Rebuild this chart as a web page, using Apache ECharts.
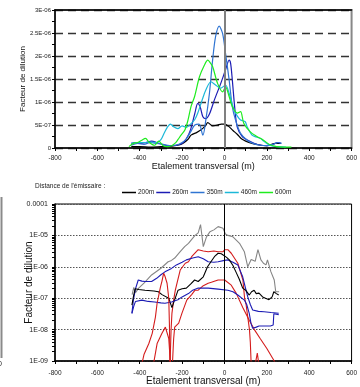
<!DOCTYPE html>
<html>
<head>
<meta charset="utf-8">
<script src="https://cdn.jsdelivr.net/npm/echarts@6/dist/echarts.min.js"></script>
<style>
html, body { margin: 0; padding: 0; background: #fff; }
#main { width: 360px; height: 387px; }
</style>
</head>
<body>
<div id="main"></div>
<script>
// --- top chart: dilution factor (units of 1E-06) vs transverse spread (m)
const x200 = [-440, -400, -350, -300, -250, -210, -190, -170, -158, -130, -112, -90, -79, -56, -33, -15, 0, 20, 40, 60, 80, 100, 130, 160, 200, 240, 265]
const d200 = [0.03, 0.03, 0.02, 0.03, 0.04, 0.07, 0.12, 0.2, 0.28, 0.34, 0.39, 0.48, 0.55, 0.48, 0.5, 0.52, 0.52, 0.47, 0.38, 0.3, 0.2, 0.15, 0.1, 0.07, 0.05, 0.1, 0.1]

const x260 = [-440, -420, -400, -370, -344, -320, -290, -260, -230, -200, -180, -160, -140, -126, -115, -102, -87, -70, -48, -17, 5, 22, 29, 37, 48, 60, 84, 122, 160, 200, 230, 250, 265]
const d260 = [0.1, 0.12, 0.1, 0.12, 0.15, 0.12, 0.07, 0.05, 0.06, 0.1, 0.2, 0.4, 0.75, 0.97, 0.9, 0.68, 0.64, 0.75, 1.04, 1.41, 1.7, 1.91, 1.84, 1.48, 0.9, 0.46, 0.25, 0.14, 0.07, 0.05, 0.08, 0.12, 0.1]

const x350 = [-440, -410, -380, -350, -320, -290, -260, -230, -200, -180, -160, -140, -120, -102, -88, -71, -56, -42, -25, -9, 5, 22, 37, 52, 76, 107, 140, 170, 200, 230, 255, 270]
const d350 = [0.06, 0.1, 0.08, 0.12, 0.1, 0.08, 0.05, 0.06, 0.12, 0.2, 0.35, 0.5, 0.52, 0.28, 0.61, 1.19, 1.91, 2.42, 2.65, 2.49, 2.06, 1.48, 0.9, 0.61, 0.32, 0.17, 0.09, 0.06, 0.05, 0.08, 0.12, 0.1]

const x460 = [-440, -410, -380, -350, -320, -300, -285, -270, -255, -240, -220, -200, -180, -160, -140, -126, -105, -88, -64, -42, -18, 5, 22, 45, 60, 76, 98, 107, 130, 150, 169, 185, 200, 220, 250, 290]
const d460 = [0.1, 0.12, 0.12, 0.13, 0.12, 0.18, 0.32, 0.45, 0.52, 0.46, 0.42, 0.48, 0.45, 0.52, 0.62, 0.76, 1.05, 1.26, 1.44, 1.37, 1.3, 1.37, 1.19, 0.83, 0.7, 0.61, 0.57, 0.46, 0.28, 0.24, 0.21, 0.15, 0.1, 0.05, 0.03, 0.02]

const x600 = [-451, -430, -410, -390, -373, -355, -330, -310, -290, -270, -250, -234, -220, -205, -187, -172, -158, -141, -118, -95, -79, -71, -56, -33, -9, 5, 22, 37, 60, 76, 91, 122, 153, 184, 215, 246, 280, 316]
const d600 = [0.03, 0.1, 0.12, 0.17, 0.21, 0.12, 0.06, 0.15, 0.05, 0.03, 0.05, 0.1, 0.18, 0.28, 0.39, 0.61, 0.9, 1.12, 1.55, 1.8, 1.91, 1.88, 1.77, 1.41, 1.22, 1.33, 1.12, 0.9, 0.76, 0.79, 0.54, 0.35, 0.25, 0.17, 0.07, 0.03, 0.02, 0.02]

const legendNames = ["200m", "260m", "350m", "460m", "600m"]
const yTopTicks = [0, 0.5, 1, 1.5, 2, 2.5, 3]

// --- bottom chart: dilution factor (log) vs transverse spread (m)
const xGray = [-436, -428, -420, -405, -380, -344, -300, -266, -250, -235, -210, -188, -170, -139, -124, -113, -100, -85, -69, -50, -30, -7, 5, 16, 40, 71, 94, 110, 126, 145, 158, 165, 172, 184, 196, 203, 219, 235, 242, 258]
const vGray = [1.3e-7, 2.2e-7, 1.5e-7, 2.1e-7, 3e-7, 5.5e-7, 9e-7, 1.45e-6, 1.6e-6, 1.9e-6, 3e-6, 4.4e-6, 5.6e-6, 1.0e-5, 1.2e-5, 2.2e-5, 4.4e-6, 9e-6, 1.3e-5, 1.5e-5, 1.9e-5, 1.7e-5, 1.1e-5, 1.0e-5, 9e-6, 5.6e-6, 3e-6, 1e-6, 1.7e-6, 1.5e-6, 3.5e-6, 3.2e-6, 1.66e-6, 1.3e-6, 1.15e-6, 1.65e-6, 7e-7, 3.8e-7, 1.6e-7, 1.6e-7]

const xBlack = [-437, -428, -421, -405, -375, -333, -312, -295, -263, -248, -235, -219, -200, -180, -160, -141, -124, -100, -80, -64, -45, -30, -15, -7, 10, 23, 40, 54, 70, 86, 100, 117, 128, 140, 150, 163, 180, 194, 210, 217, 225, 233, 245, 256]
const vBlack = [6e-8, 1.3e-7, 2e-7, 1.9e-7, 1.8e-7, 1.7e-7, 1.6e-7, 1.3e-7, 1e-7, 5e-8, 9e-8, 1.8e-7, 2e-7, 2.1e-7, 2.8e-7, 3.8e-7, 3.4e-7, 4.8e-7, 1e-6, 1.45e-6, 2.2e-6, 2.7e-6, 2.6e-6, 2.4e-6, 2e-6, 1.66e-6, 1.1e-6, 6.9e-7, 4e-7, 2.1e-7, 1.8e-7, 1.26e-7, 1.6e-7, 1.8e-7, 1.4e-7, 1.45e-7, 1.1e-7, 1e-7, 9e-8, 7.8e-8, 1.1e-7, 1.6e-7, 1.4e-7, 1.26e-7]

const xBlueUp = [-437, -430, -420, -407, -390, -375, -344, -320, -300, -281, -250, -227, -200, -180, -150, -124, -100, -77, -50, -30, 0, 16, 40, 63, 86, 100, 110, 122, 133, 160, 187, 220, 256]
const vBlueUp = [3.3e-8, 8.7e-8, 2e-7, 3.8e-7, 3.5e-7, 3.4e-7, 3.4e-7, 4.3e-7, 5.6e-7, 6.9e-7, 8.9e-7, 1.15e-6, 1.4e-6, 1.66e-6, 1.9e-6, 2.1e-6, 1.8e-6, 1.45e-6, 1.4e-6, 1.45e-6, 1.6e-6, 1.66e-6, 1.4e-6, 1.15e-6, 4.8e-7, 2e-7, 1.1e-7, 6.3e-8, 4.2e-8, 3.8e-8, 3.7e-8, 3.5e-8, 3.3e-8]

const xBlueLow = [-437, -428, -420, -390, -360, -330, -300, -281, -250, -220, -200, -170, -150, -124, -77, -30, 16, 40, 63, 94, 105, 117, 125, 133, 140, 150, 163, 190, 217, 230, 233, 256]
const vBlueLow = [3.3e-8, 5.6e-8, 7.9e-8, 8.7e-8, 7.9e-8, 7.6e-8, 7.1e-8, 6.9e-8, 7.6e-8, 8.9e-8, 1.1e-7, 1.4e-7, 1.8e-7, 2.1e-7, 2.1e-7, 1.95e-7, 1.8e-7, 1.6e-7, 1.26e-7, 8.7e-8, 6.3e-8, 3.3e-8, 1.6e-8, 1.1e-8, 1e-8, 1.2e-8, 1.3e-8, 1.3e-8, 1.3e-8, 1.4e-8, 3.2e-8, 3e-8]

const xRedUp = [-257, -252, -248, -240, -232, -224, -209, -185, -170, -155, -124, -100, -77, -50, -30, -7, 1, 16, 32, 40, 63, 87, 95, 102, 110, 118, 122, 126, 140, 155, 162]
const vRedUp = [8e-10, 1e-8, 3.3e-8, 8.7e-8, 1.8e-7, 3e-7, 7.9e-7, 1.3e-6, 1.45e-6, 2.1e-6, 3.5e-6, 3.2e-6, 3e-6, 3.2e-6, 3e-6, 3e-6, 3.5e-6, 3.5e-6, 2.7e-6, 2.4e-6, 1.3e-6, 3.8e-7, 1e-7, 6.3e-8, 2.5e-8, 1e-8, 4e-9, 8e-10, 5e-10, 1.8e-9, 8e-10]

const xRedMid = [-245, -240, -235, -216, -201, -178, -155, -139, -124, -100, -77, -62, -30, 1, 32, 55, 63, 87, 94, 117, 141, 170, 200, 235, 242]
const vRedMid = [1e-9, 5e-9, 1.2e-8, 1.6e-8, 3.3e-8, 8.7e-8, 1.3e-7, 1.8e-7, 1.8e-7, 2.5e-7, 3e-7, 3.2e-7, 3.8e-7, 3.8e-7, 2.6e-7, 1.45e-7, 1.26e-7, 5e-8, 4.5e-8, 2e-8, 1e-8, 5e-9, 2.5e-9, 1e-9, 8e-10]

const xRedA = [-390, -380, -357, -341, -326, -318, -310, -302, -295, -287, -280, -271, -263, -260, -257]
const vRedA = [8e-10, 1.6e-9, 3.6e-9, 7.6e-9, 2.5e-8, 6.9e-8, 1.26e-7, 2.3e-7, 3.5e-7, 6.3e-7, 4.8e-7, 3e-7, 1e-7, 1.6e-8, 8e-10]

const xRedB = [-335, -318, -295, -279, -263, -255]
const vRedB = [8e-10, 3.6e-9, 7.6e-9, 1.2e-8, 5.2e-9, 8e-10]

function pts(xs, ys) {
  return xs.map((x, i) => [x, ys[i]])
}

function sciTop(v) {
  if (Math.abs(v) < 1e-9) return "0"
  const val = v * 1e-6
  const e = Math.floor(Math.log10(val) + 1e-9)
  const m = Math.round(val / Math.pow(10, e) * 10) / 10
  return m + "E-" + String(-e).padStart(2, "0")
}

function sciLog(v) {
  const e = Math.round(Math.log10(v))
  if (e === -4) return "0.0001"
  return "1E-" + String(-e).padStart(2, "0")
}

const font = "Liberation Sans, Arial, sans-serif"
const axisTxt = { color: "#222", fontFamily: font }

function topLine(name, xs, ys, color) {
  return {
    name: name,
    type: "line",
    xAxisIndex: 0,
    yAxisIndex: 0,
    data: pts(xs, ys),
    symbol: "none",
    smooth: 0.3,
    lineStyle: { color: color, width: 1.2 },
    itemStyle: { color: color },
    z: 3
  }
}

function botLine(name, xs, ys, color) {
  return {
    name: name,
    type: "line",
    xAxisIndex: 2,
    yAxisIndex: 1,
    data: pts(xs, ys),
    symbol: "none",
    lineStyle: { color: color, width: 1.1 },
    itemStyle: { color: color },
    z: 3
  }
}

const myChart = echarts.init(document.getElementById("main"))

const series = [
  topLine("200m", x200, d200, "#000000"),
  topLine("260m", x260, d260, "#1c1cb4"),
  topLine("350m", x350, d350, "#2f74d2"),
  topLine("460m", x460, d460, "#1cb8d8"),
  topLine("600m", x600, d600, "#1eec1e"),
  botLine("gris", xGray, vGray, "#858585"),
  botLine("rouge haut", xRedUp, vRedUp, "#d41c1c"),
  botLine("bleu haut", xBlueUp, vBlueUp, "#1c1cb4"),
  botLine("noir", xBlack, vBlack, "#000000"),
  botLine("rouge milieu", xRedMid, vRedMid, "#d41c1c"),
  botLine("bleu bas", xBlueLow, vBlueLow, "#1c1cb4"),
  botLine("rouge A", xRedA, vRedA, "#d41c1c"),
  botLine("rouge B", xRedB, vRedB, "#d41c1c")
]

// vertical line at x = 0 in both plots
series[0].markLine = {
  silent: true, symbol: "none", label: { show: false },
  lineStyle: { color: "#808080", width: 2, type: "solid" },
  data: [{ xAxis: 0 }]
}
series[5].markLine = {
  silent: true, symbol: "none", label: { show: false },
  lineStyle: { color: "#000", width: 1, type: "solid" },
  data: [{ xAxis: 0 }]
}

const option = {
  animation: false,
  backgroundColor: "#fff",
  title: {
    text: "Distance de l'émissaire :",
    left: 30, top: 178,
    textStyle: { fontSize: 6.5, fontWeight: "normal", color: "#222", fontFamily: font }
  },
  legend: {
    data: legendNames,
    left: 117, top: 184,
    icon: "rect",
    itemWidth: 14, itemHeight: 1.5, itemGap: 2,
    textStyle: { fontSize: 6.5, color: "#222", fontFamily: font, padding: [0, 0, 0, -3] }
  },
  graphic: [
    { type: "line", shape: { x1: 1.5, y1: 197, x2: 1.5, y2: 358 }, style: { stroke: "#8a8a8a", lineWidth: 2 } },
    { type: "text", left: -2, top: 361, style: { text: "0", fontSize: 7, fill: "#222", fontFamily: font } }
  ],
  grid: [
    { left: 55, top: 10, width: 301, height: 138, show: true, borderColor: "#888", borderWidth: 2 },
    { left: 55, top: 204, width: 301, height: 157, show: true, borderColor: "#000", borderWidth: 1 }
  ],
  xAxis: [
    {
      type: "value", gridIndex: 0, min: -800, max: 600, interval: 200,
      name: "Etalement transversal (m)", nameLocation: "middle", nameGap: 14, nameMoveOverlap: false,
      nameTextStyle: { fontSize: 9, color: "#111", fontFamily: font },
      axisLine: { onZero: false, lineStyle: { color: "#000", width: 1.5 } },
      axisTick: { length: 3, lineStyle: { color: "#000" } },
      minorTick: { show: true, splitNumber: 2, length: 3, lineStyle: { color: "#000" } },
      axisLabel: { fontSize: 6.5, margin: 7, ...axisTxt },
      splitLine: { show: false }
    },
    {
      type: "value", gridIndex: 0, position: "top", min: -800, max: 600,
      axisLine: { onZero: false, lineStyle: { color: "#000", width: 1.5 } },
      axisTick: { show: false }, axisLabel: { show: false }, splitLine: { show: false }
    },
    {
      type: "value", gridIndex: 1, min: -800, max: 600, interval: 200,
      name: "Etalement transversal (m)", nameLocation: "middle", nameGap: 15, nameMoveOverlap: false,
      nameTextStyle: { fontSize: 10, color: "#111", fontFamily: font },
      axisLine: { onZero: false, lineStyle: { color: "#000", width: 1.5 } },
      axisTick: { length: 3, lineStyle: { color: "#000" } },
      minorTick: { show: true, splitNumber: 2, length: 3, lineStyle: { color: "#000" } },
      axisLabel: { fontSize: 6.5, margin: 9, ...axisTxt },
      splitLine: { show: false }
    }
  ],
  yAxis: [
    {
      type: "value", gridIndex: 0, min: yTopTicks[0], max: yTopTicks[yTopTicks.length - 1], interval: 0.5,
      name: "Facteur de dilution", nameLocation: "middle", nameGap: 28, nameMoveOverlap: false,
      nameTextStyle: { fontSize: 8, color: "#111", fontFamily: font },
      axisLine: { onZero: false, lineStyle: { color: "#000", width: 1.5 } },
      axisTick: { length: 3, lineStyle: { color: "#000" } },
      minorTick: { show: true, splitNumber: 2, length: 3, lineStyle: { color: "#000" } },
      axisLabel: { fontSize: 6, margin: 4, formatter: sciTop, ...axisTxt },
      splitLine: { show: true, lineStyle: { color: "#333", width: 1.3, type: [8, 5] } }
    },
    {
      type: "log", gridIndex: 1, logBase: 10, min: 1e-9, max: 1e-4,
      name: "Facteur de dilution", nameLocation: "middle", nameGap: 21, nameMoveOverlap: false,
      nameTextStyle: { fontSize: 10, color: "#111", fontFamily: font },
      axisLine: { onZero: false, lineStyle: { color: "#000", width: 1.5 } },
      axisTick: { length: 3, lineStyle: { color: "#000" } },
      minorTick: { show: true, splitNumber: 9, length: 3, lineStyle: { color: "#000" } },
      axisLabel: { fontSize: 7, margin: 7, formatter: sciLog, ...axisTxt },
      splitLine: { show: true, lineStyle: { color: "#555", width: 1, type: [1.5, 1.5] } }
    }
  ],
  series: series
}
myChart.setOption(option, true)
</script>
</body>
</html>
